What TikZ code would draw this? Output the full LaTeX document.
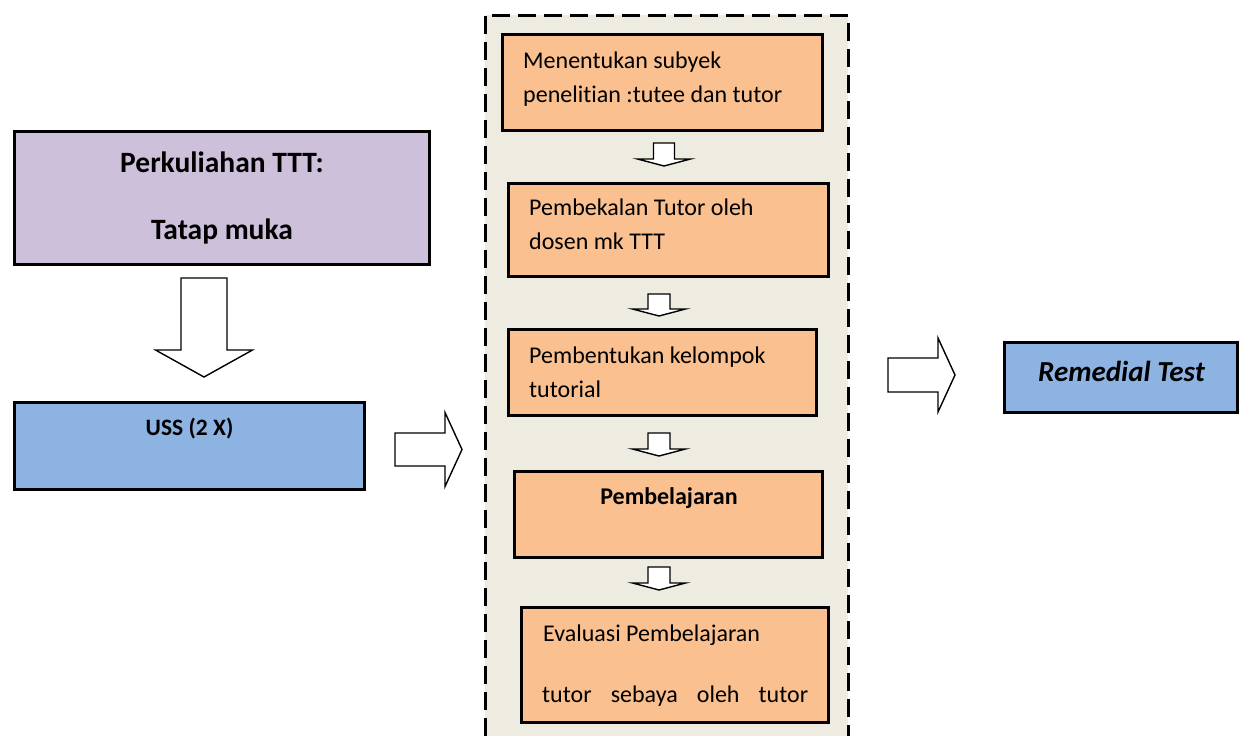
\documentclass[tikz,border=0pt]{standalone}
\usepackage{fontspec}
\setmainfont{Carlito}[Ligatures=NoCommon]
\definecolor{lilac}{HTML}{CCC0DA}
\definecolor{skyblue}{HTML}{8DB3E2}
\definecolor{peach}{HTML}{FAC090}
\definecolor{paper}{HTML}{EEECE1}
\newcommand{\DArr}[6]{\draw[blockarrow] ({#1-#5},#2) -- ({#1+#5},#2) -- ({#1+#5},#3) -- ({#1+#6},#3) -- (#1,#4) -- ({#1-#6},#3) -- ({#1-#5},#3) -- cycle;}
\newcommand{\RArr}[6]{\draw[blockarrow] (#2,{#1-#5}) -- (#3,{#1-#5}) -- (#3,{#1-#6}) -- (#4,#1) -- (#3,{#1+#6}) -- (#3,{#1+#5}) -- (#2,{#1+#5}) -- cycle;}
\begin{document}
\begin{tikzpicture}[x=1pt,y=-1pt,
  box/.style={draw=black, line width=3pt, inner sep=0pt},
  obox/.style={box, fill=peach},
  blockarrow/.style={draw=black, fill=white, line width=1.4pt, line join=miter},
  txt/.style={inner sep=0pt, anchor=base west, font=\fontsize{24}{28}\selectfont},
  btxt/.style={inner sep=0pt, anchor=base, font=\bfseries}]
\useasboundingbox (0,0) rectangle (1240,736);
% dashed container
\fill[paper] (485,15) rectangle (848,736);
\draw[line width=3pt, dash pattern=on 18pt off 8pt] (485,736) -- (485,15) -- (848,15) -- (848,736);
% left column
\node[box, fill=lilac, minimum width=415, minimum height=133] (tm) at (222,198) {};
\node[btxt, font=\bfseries\fontsize{29.5}{34}\selectfont] (tm1) at (222,172) {Perkuliahan TTT:};
\node[btxt, font=\bfseries\fontsize{29.5}{34}\selectfont] (tm2) at (222,239) {Tatap muka};
\DArr{204}{278}{350}{377}{23}{48.5}
\node[box, fill=skyblue, minimum width=350, minimum height=87] (uss) at (189.5,446) {};
\node[btxt, font=\bfseries\fontsize{23.5}{28}\selectfont] (usst) at (189.5,435) {USS (2 X)};
\RArr{449.5}{395}{445}{462}{16.5}{37}
% middle column
\node[obox, minimum width=320, minimum height=96] (b1) at (662.5,82.5) {};
\node[txt] (b1a) at (523,68) {Menentukan subyek};
\node[txt] (b1b) at (523,102) {penelitian :tutee dan tutor};
\DArr{664}{143}{159}{166}{10.5}{26.5}
\node[obox, minimum width=320, minimum height=93] (b2) at (668.5,230) {};
\node[txt] (b2a) at (529,215) {Pembekalan Tutor oleh};
\node[txt] (b2b) at (529,249) {dosen mk TTT};
\DArr{659}{294}{309}{316}{11}{26.5}
\node[obox, minimum width=308, minimum height=86] (b3) at (662.5,372.5) {};
\node[txt] (b3a) at (529,363) {Pembentukan kelompok};
\node[txt] (b3b) at (529,397) {tutorial};
\DArr{659}{433}{449}{456}{11}{26.5}
\node[obox, minimum width=308, minimum height=86] (b4) at (668.5,514.5) {};
\node[btxt, font=\bfseries\fontsize{24}{28}\selectfont] (b4t) at (669,504) {Pembelajaran};
\DArr{659}{567}{583}{590}{11}{26.5}
\node[obox, minimum width=307, minimum height=115] (b5) at (675,665) {};
\node[txt] (b5a) at (543,641) {Evaluasi Pembelajaran};
\node[txt] (b5b) at (542,702) {\makebox[266pt][s]{tutor sebaya oleh tutor}};
% right column
\RArr{375}{888}{938}{955}{17}{37}
\node[box, fill=skyblue, minimum width=233, minimum height=70] (rt) at (1121,377.5) {};
\node[btxt, font=\bfseries\itshape\fontsize{29}{33}\selectfont] (rtt) at (1121.5,381) {Remedial Test};
\end{tikzpicture}
\end{document}
